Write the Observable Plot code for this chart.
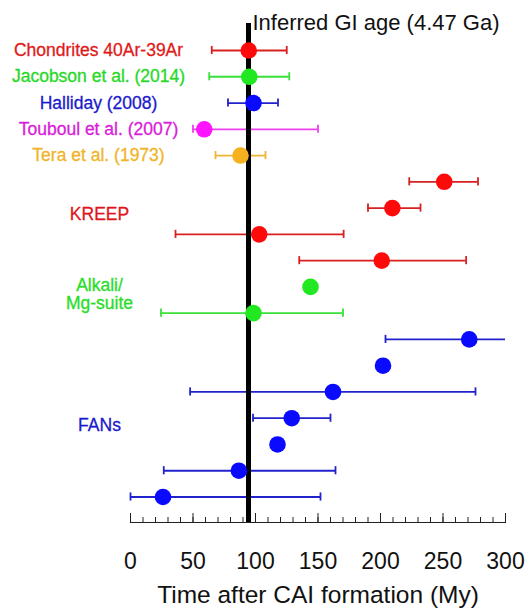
<!DOCTYPE html>
<html>
<head>
<meta charset="utf-8">
<script src="https://cdn.jsdelivr.net/npm/d3@7"></script>
<script src="https://cdn.jsdelivr.net/npm/@observablehq/plot@0.6"></script>
<style>
  html, body { margin: 0; padding: 0; background: #fff; }
  #chart svg { display: block; }
</style>
</head>
<body>
<div id="chart"></div>
<script>
// ---- data ----
const topLabels = ["Chondrites 40Ar-39Ar", "Jacobson et al. (2014)", "Halliday (2008)", "Touboul et al. (2007)", "Tera et al. (1973)"];
const topLabelColors = ["#e01a1a", "#28d828", "#1a1acc", "#d820d8", "#f0b428"];
const groupLabels = ["KREEP", "Alkali/\nMg-suite", "FANs"];
const groupLabelRows = [6.25, 9.27, 14.28];
const groupLabelColors = ["#e0151c", "#28dd28", "#1a1acc"];

const ages = [94.6, 95, 98.4, 59, 88, 251, 209.5, 103, 201, 144, 98.4, 271, 202, 162, 129, 117.6, 86.7, 26];
const lows = [65, 63, 78, 50, 68, 223, 190, 36, 135, null, 24.4, 204, null, 47.7, 98, null, 26.6, 0];
const highs = [125, 127, 118, 150, 108, 278, 232, 170.5, 268.5, null, 170, 300, null, 276, 160, null, 164, 152];
const groups = ["red", "green", "blue", "magenta", "orange", "red", "red", "red", "red", "green", "green", "blue", "blue", "blue", "blue", "blue", "blue", "blue"];

const giAge = 94.4;
const giLabel = "Inferred GI age (4.47 Ga)";
const xTitle = "Time after CAI formation (My)";
const majorTicks = [0, 50, 100, 150, 200, 250, 300];
const minorTicks = d3.range(0, 301, 10);

const dotColor = {red: "#ff0a0a", green: "#22e822", blue: "#0a0aff", magenta: "#ff14ff", orange: "#f5b21e"};
const barColor = {red: "#d92020", green: "#38e038", blue: "#2222cc", magenta: "#ee40ee", orange: "#f0b436"};

// ---- build rows ----
const rows = ages.map((a, i) => ({i, age: a, lo: lows[i], hi: highs[i], g: groups[i]}));
const withErr = rows.filter(d => d.lo != null);
const caps = [];
withErr.forEach(d => {
  if (d.lo >= 0 && d.lo < 300) caps.push({i: d.i, x: d.lo, g: d.g});
  if (d.hi >= 0 && d.hi < 300) caps.push({i: d.i, x: d.hi, g: d.g});
});
const topRows = topLabels.map((t, i) => ({t, i, c: topLabelColors[i]}));
const groupRows = groupLabels.map((t, k) => ({t, i: groupLabelRows[k], c: groupLabelColors[k]}));

const chart = Plot.plot({
  width: 531,
  height: 609,
  marginLeft: 130,
  marginRight: 26,
  marginTop: 23,
  marginBottom: 87,
  style: {fontFamily: "'Liberation Sans', Arial, Helvetica, sans-serif", background: "white"},
  x: {domain: [0, 300], axis: null},
  y: {domain: [0, 17], range: [50, 496.5], axis: null},
  marks: [
    // error bars
    Plot.ruleY(withErr, {y: "i", x1: "lo", x2: "hi", stroke: d => barColor[d.g], strokeWidth: 1.8}),
    Plot.ruleX(caps, {x: "x", y1: d => d.i - 0.155, y2: d => d.i + 0.155, stroke: d => barColor[d.g], strokeWidth: 1.8}),
    // GI age line
    Plot.ruleX([giAge], {stroke: "black", strokeWidth: 5}),
    // dots
    Plot.dot(rows, {x: "age", y: "i", r: 8.3, fill: d => dotColor[d.g], stroke: "none"}),
    // axis line
    Plot.frame({anchor: "bottom", stroke: "#222", strokeWidth: 1.2}),
    Plot.axisX({ticks: minorTicks, tickSize: -5, tickFormat: () => "", stroke: "#222"}),
    Plot.axisX({ticks: majorTicks, tickSize: -9, tickFormat: () => "", stroke: "#222"}),
    Plot.axisX({ticks: majorTicks, tickSize: 0, tickPadding: 30, fontSize: 23, fill: "#111"}),
    Plot.text([xTitle], {frameAnchor: "bottom", dy: 73, fontSize: 24.5, fill: "#111", lineAnchor: "middle"}),
    // GI label
    Plot.text([giLabel], {x: [giAge], frameAnchor: "top", dx: 4, dy: -1, textAnchor: "start", lineAnchor: "middle", fontSize: 22, fill: "#111"}),
    // category labels
    Plot.text(topRows, {y: "i", text: "t", fill: "c", stroke: "c", strokeWidth: 0.3, frameAnchor: "left", dx: -32, textAnchor: "middle", fontSize: 17.5}),
    Plot.text(groupRows, {y: "i", text: "t", fill: "c", stroke: "c", strokeWidth: 0.3, frameAnchor: "left", dx: -31, textAnchor: "middle", fontSize: 17.5, lineHeight: 1.03})
  ]
});
document.getElementById("chart").append(chart);
</script>
</body>
</html>
